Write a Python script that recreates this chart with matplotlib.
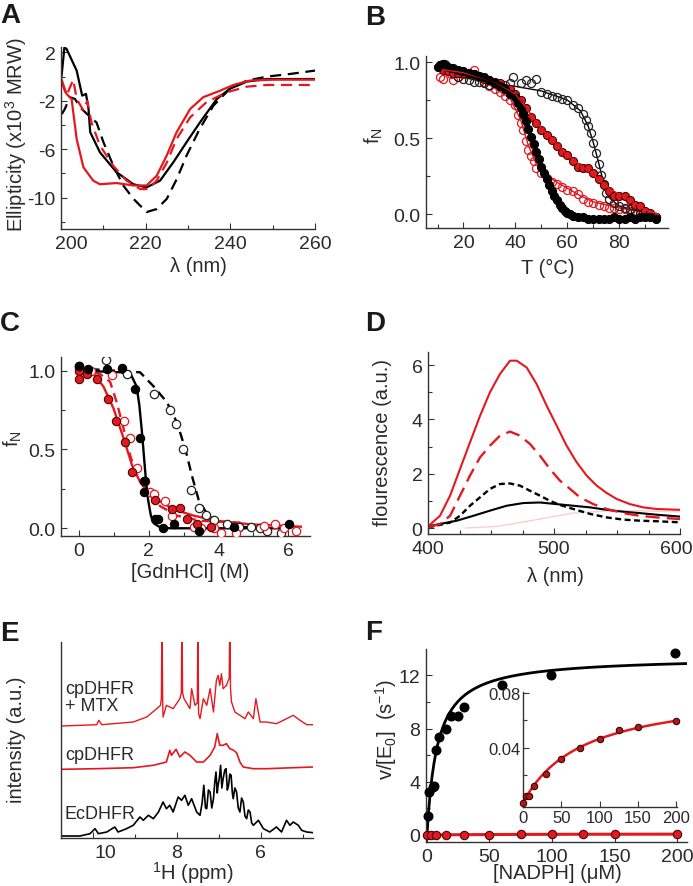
import numpy as np
import matplotlib
matplotlib.use('Agg')
import matplotlib.pyplot as plt
from matplotlib.ticker import FixedLocator, NullLocator
import matplotlib.transforms as mtrans

plt.rcParams['font.family'] = ['Liberation Sans', 'DejaVu Sans']
plt.rcParams['mathtext.default'] = 'regular'

RED = '#e3191f'
DRED = '#4a0505'
TXT = '#2a2a2a'

# ---------------- Panel A : CD spectra ----------------
a_bk_solid_x = [200.15, 200.8, 201.3, 203.7, 205.0, 205.9, 206.5, 206.9, 209.2, 213.1, 217.1, 220.2, 223.4, 226.5, 229.7, 232.8, 236.8, 239.9, 243.9, 248.6, 260]
a_bk_solid_y = [0.1, 2.4, 2.3, 0.5, -1.57, -1.43, -2.68, -4.6, -6.26, -7.9, -8.9, -9.16, -8.6, -7.1, -5.4, -3.8, -1.85, -1.0, -0.41, -0.2, -0.2]
a_bk_dash_x = [200.2, 200.9, 202.1, 203.3, 204.9, 206.5, 208.4, 210.0, 212.4, 214.7, 217.1, 220.2, 222.6, 225.0, 227.3, 229.7, 232.8, 236.0, 239.9, 243.9, 248.6, 254.1, 260]
a_bk_dash_y = [-3.1, -2.68, -1.7, -1.85, -2.68, -3.2, -3.8, -5.4, -7.4, -9.0, -10.1, -11.2, -10.95, -10.1, -8.5, -6.5, -4.3, -2.4, -1.0, -0.33, 0.0, 0.22, 0.5]
a_rd_solid_x = [200.1, 201.3, 202.5, 203.7, 205.3, 207.6, 209.2, 213.1, 217.1, 220.2, 222.6, 225.0, 227.3, 230.5, 233.6, 237.6, 240.7, 244.6, 250.2, 260]
a_rd_solid_y = [-0.2, -1.43, -1.85, -5.16, -7.5, -8.6, -8.9, -8.8, -9.0, -9.0, -8.2, -6.5, -4.6, -2.68, -1.7, -1.16, -0.69, -0.33, -0.25, -0.25]
a_rd_dash_x = [200.2, 201.3, 202.9, 203.7, 205.3, 206.2, 207.2, 209.2, 212.4, 215.5, 218.7, 220.6, 222.6, 225.0, 227.3, 230.5, 234.4, 239.1, 243.9, 248.6, 260]
a_rd_dash_y = [-0.47, -1.57, -0.25, -1.85, -2.8, -2.0, -3.8, -5.7, -7.4, -8.6, -9.3, -9.3, -8.6, -7.1, -5.16, -3.37, -2.1, -1.3, -0.83, -0.69, -0.69]

# ---------------- Panel B : thermal melts ----------------
b_bf_T = [10, 11, 12, 13, 14, 15, 16, 18, 20, 22, 24, 26, 28, 30, 32, 34, 36, 38, 40, 41, 42, 43, 44, 45, 46, 47, 48, 49, 50, 51, 52, 53, 54, 55, 56, 57, 58, 59, 60, 61, 62, 64, 66, 68, 70, 72, 74, 76, 78, 80, 82, 84, 86, 88, 90, 92, 94]
b_bf_f = [0.97, 0.98, 0.99, 0.98, 0.97, 0.96, 0.96, 0.95, 0.94, 0.93, 0.92, 0.91, 0.90, 0.88, 0.86, 0.84, 0.82, 0.79, 0.77, 0.73, 0.70, 0.66, 0.61, 0.56, 0.51, 0.46, 0.41, 0.36, 0.31, 0.27, 0.23, 0.19, 0.15, 0.12, 0.09, 0.06, 0.04, 0.02, 0.01, 0.0, -0.01, -0.02, -0.02, -0.03, -0.03, -0.03, -0.03, -0.03, -0.02, -0.03, -0.03, -0.02, -0.03, -0.02, -0.02, -0.02, -0.03]
b_bo_T = [11, 12, 14, 16, 18, 20, 22, 24, 26, 28, 30, 32, 34, 36, 38, 39, 42, 44, 46, 48, 50, 52, 54, 56, 58, 60, 62, 64, 66, 67, 68, 69, 70, 71, 72, 73, 74, 75, 76, 78, 80, 82, 84, 86, 88, 90, 92, 94]
b_bo_f = [0.98, 0.99, 0.96, 0.93, 0.90, 0.89, 0.88, 0.87, 0.87, 0.86, 0.85, 0.86, 0.84, 0.85, 0.86, 0.90, 0.86, 0.88, 0.86, 0.89, 0.80, 0.79, 0.78, 0.77, 0.76, 0.75, 0.72, 0.70, 0.66, 0.62, 0.58, 0.53, 0.47, 0.40, 0.33, 0.26, 0.20, 0.14, 0.10, 0.07, 0.05, 0.04, 0.03, 0.02, 0.01, 0.0, 0.0, -0.02]
b_rf_T = [12, 14, 16, 18, 20, 22, 24, 26, 28, 30, 32, 34, 36, 38, 40, 42, 44, 46, 48, 50, 52, 54, 56, 58, 60, 62, 64, 66, 68, 70, 72, 74, 76, 78, 80, 82, 84, 86, 88, 90, 92, 94]
b_rf_f = [0.95, 0.94, 0.93, 0.93, 0.93, 0.92, 0.92, 0.91, 0.89, 0.88, 0.87, 0.86, 0.83, 0.82, 0.79, 0.75, 0.70, 0.64, 0.60, 0.55, 0.52, 0.49, 0.45, 0.41, 0.39, 0.35, 0.31, 0.30, 0.30, 0.27, 0.23, 0.19, 0.15, 0.12, 0.12, 0.12, 0.09, 0.06, 0.05, 0.02, 0.01, -0.02]
b_ro_T = [11, 12, 13, 15, 16, 18, 20, 22, 24, 26, 28, 30, 32, 34, 36, 38, 40, 41, 42, 43, 44, 45, 46, 47, 48, 50, 52, 54, 56, 58, 60, 62, 64, 66, 68, 70, 72, 74, 76, 78, 80, 82, 84, 86, 88, 90]
b_ro_f = [0.90, 0.89, 0.99, 0.92, 0.88, 0.90, 0.92, 0.93, 0.95, 0.90, 0.87, 0.84, 0.82, 0.80, 0.78, 0.75, 0.72, 0.65, 0.60, 0.55, 0.48, 0.42, 0.38, 0.35, 0.30, 0.27, 0.24, 0.21, 0.20, 0.18, 0.16, 0.15, 0.13, 0.10, 0.08, 0.07, 0.06, 0.05, 0.04, 0.04, 0.03, 0.03, 0.02, 0.02, 0.0, 0.01]
# fitted curves
b_fit_bf_T = [10, 20, 30, 38, 42, 46, 50, 54, 58, 62, 70, 95]
b_fit_bf_f = [0.98, 0.94, 0.88, 0.80, 0.71, 0.52, 0.32, 0.15, 0.04, 0.0, -0.02, -0.02]
b_fit_bo_T = [10, 20, 30, 40, 50, 60, 65, 68, 70, 72, 74, 76, 80, 90, 95]
b_fit_bo_f = [0.96, 0.90, 0.86, 0.84, 0.81, 0.75, 0.68, 0.58, 0.47, 0.34, 0.20, 0.11, 0.05, 0.01, 0.0]
b_fit_rf_T = [12, 20, 30, 40, 45, 50, 55, 60, 65, 70, 75, 80, 85, 90, 95]
b_fit_rf_f = [0.95, 0.93, 0.88, 0.79, 0.68, 0.56, 0.48, 0.39, 0.32, 0.26, 0.18, 0.13, 0.08, 0.03, 0.0]
b_fit_ro_T = [12, 20, 30, 38, 42, 45, 48, 52, 58, 65, 70, 80, 90]
b_fit_ro_f = [0.92, 0.92, 0.85, 0.76, 0.62, 0.45, 0.33, 0.25, 0.19, 0.12, 0.08, 0.04, 0.01]

# ---------------- Panel C : chemical denaturation ----------------
c_bf_x = [0, 0.27, 0.8, 1.23, 1.6, 1.76, 1.85, 1.87, 2.19, 2.25, 2.41, 2.71, 3.43, 4.44, 6.02]
c_bf_y = [1.03, 1.01, 1.01, 1.02, 0.885, 0.57, 0.30, 0.23, 0.06, 0.06, 0.0, 0.03, -0.02, 0.01, 0.03]
c_bo_x = [0, 0.27, 0.78, 1.37, 2.16, 2.62, 2.79, 2.98, 3.22, 3.45, 3.64, 3.88, 4.25, 4.59, 4.92, 5.2, 5.4, 5.78]
c_bo_y = [1.03, 1.0, 1.07, 0.98, 0.85, 0.75, 0.66, 0.5, 0.24, 0.13, 0.085, 0.05, 0.025, 0.01, 0.01, 0.0, -0.02, -0.03]
c_rf_x = [0, 0, 0.24, 0.51, 0.82, 1.06, 1.32, 1.52, 1.9, 2.19, 2.67, 2.89, 3.1, 3.39, 3.77]
c_rf_y = [1.0, 0.95, 0.98, 0.95, 0.82, 0.68, 0.55, 0.36, 0.3, 0.18, 0.12, 0.13, 0.06, 0.03, 0.01]
c_ro_x = [0, 0.35, 0.94, 1.28, 1.45, 1.66, 2.04, 2.14, 2.47, 2.67, 3.29, 3.51, 3.87, 4.06, 4.49, 5.3, 5.61, 5.88, 6.22]
c_ro_y = [1.02, 1.0, 0.97, 0.68, 0.57, 0.38, 0.23, 0.22, 0.17, 0.08, 0.01, 0.0, 0.0, -0.03, -0.03, 0.015, 0.03, 0.0, -0.02]
c_fit_bs_x = [0.1, 1.2, 1.5, 1.65, 1.73, 1.8, 1.86, 1.92, 1.98, 2.06, 2.15, 2.3, 2.6, 6.0]
c_fit_bs_y = [1.0, 0.99, 0.97, 0.9, 0.78, 0.62, 0.46, 0.3, 0.18, 0.08, 0.03, 0.01, 0.0, 0.0]
c_fit_bd_x = [0.32, 1.75, 2.14, 2.52, 2.81, 3.05, 3.24, 3.43, 3.67, 4.06, 4.63, 5.2]
c_fit_bd_y = [1.01, 0.99, 0.9, 0.8, 0.67, 0.5, 0.33, 0.18, 0.09, 0.036, 0.01, 0.0]
c_fit_rs_x = [0, 0.41, 0.7, 0.99, 1.28, 1.52, 1.76, 2.14, 2.71, 3.29, 3.96, 4.92, 6.36]
c_fit_rs_y = [1.01, 0.98, 0.9, 0.76, 0.57, 0.4, 0.29, 0.195, 0.12, 0.08, 0.047, 0.025, 0.01]
c_fit_rd_x = [0, 0.6, 0.89, 1.08, 1.28, 1.47, 1.66, 1.95, 2.33, 2.81, 3.48, 4.63]
c_fit_rd_y = [1.0, 0.98, 0.93, 0.8, 0.63, 0.46, 0.33, 0.23, 0.14, 0.08, 0.047, 0.036]

# ---------------- Panel D : fluorescence ----------------
d_rs_x = [400, 409.5, 417.5, 425.4, 433.3, 441.3, 449.2, 457.1, 465.1, 470.4, 478.3, 486.2, 494.2, 502.1, 510, 518, 525.9, 533.9, 541.8, 549.7, 560.3, 570.9, 581.5, 600]
d_rs_y = [0.06, 0.45, 1.19, 2.17, 3.15, 4.13, 5.0, 5.67, 6.16, 6.16, 5.91, 5.3, 4.5, 3.77, 3.03, 2.42, 1.93, 1.56, 1.29, 1.07, 0.88, 0.76, 0.70, 0.67]
d_rd_x = [400, 409.5, 417.5, 425.4, 433.3, 441.3, 449.2, 457.1, 465.1, 473, 481, 488.9, 496.8, 504.8, 512.7, 520.6, 531.2, 541.8, 555, 568, 581.5, 600]
d_rd_y = [0.02, 0.15, 0.45, 1.19, 1.93, 2.6, 3.03, 3.4, 3.55, 3.4, 3.09, 2.66, 2.17, 1.74, 1.44, 1.13, 0.88, 0.70, 0.55, 0.45, 0.39, 0.33]
d_bd_x = [400, 417.5, 425.4, 433.3, 441.3, 449.2, 457.1, 465.1, 473, 481, 488.9, 496.8, 504.8, 515.3, 528.6, 541.8, 555, 568, 581.5, 600]
d_bd_y = [0.02, 0.2, 0.45, 0.82, 1.13, 1.44, 1.62, 1.64, 1.56, 1.37, 1.19, 1.0, 0.85, 0.7, 0.52, 0.39, 0.31, 0.27, 0.25, 0.21]
d_bs_x = [400, 409.5, 422.8, 436, 449.2, 462.4, 475.7, 488.9, 502.1, 515.3, 528.6, 541.8, 555, 568, 581.5, 600]
d_bs_y = [0.06, 0.15, 0.27, 0.45, 0.64, 0.82, 0.92, 0.94, 0.88, 0.82, 0.76, 0.67, 0.6, 0.55, 0.49, 0.42]
d_faint_x = [430, 455, 485, 515, 550, 600]
d_faint_y = [0.0, 0.06, 0.3, 0.55, 0.65, 0.6]

# ---------------- Panel E : 1D 1H NMR ----------------
e_ec_ppm = [10.75, 10.31, 10.07, 9.95, 9.87, 9.67, 9.48, 9.40, 9.20, 9.04, 8.88, 8.80, 8.68, 8.56, 8.44, 8.33, 8.25, 8.17, 8.09, 7.97, 7.89, 7.81, 7.73, 7.65, 7.53, 7.45, 7.40, 7.36, 7.32, 7.29, 7.25, 7.21, 7.17, 7.13, 7.10, 7.07, 7.04, 7.02, 6.99, 6.96, 6.93, 6.90, 6.86, 6.83, 6.80, 6.77, 6.74, 6.71, 6.68, 6.66, 6.62, 6.58, 6.54, 6.50, 6.46, 6.42, 6.38, 6.34, 6.30, 6.26, 6.22, 6.18, 6.06, 5.94, 5.79, 5.63, 5.51, 5.39, 5.31, 5.23, 5.11, 5.03, 4.91, 4.75]
e_ec_int = [2, 2, 4.3, 9.3, 4.3, 6, 11, 6, 9.3, 12.7, 21, 17.7, 22.7, 19.3, 26, 36, 29.3, 32.7, 26, 41, 37.7, 42.7, 32.7, 39.3, 26, 22.7, 35, 52.7, 30, 29.3, 48, 46, 30, 39.3, 55, 66, 45, 52.7, 60, 72.7, 50, 59.3, 68, 69.3, 48, 52.7, 64, 62.7, 45, 39.3, 50, 46, 30, 26, 40, 36, 22, 19.3, 28, 26, 15, 12.7, 17.7, 9.3, 6, 11, 6, 17.7, 12.7, 16, 12.7, 7.7, 6, 5.3]
e_cp_ppm = [10.75, 9.91, 9.04, 8.56, 8.25, 8.17, 8.13, 8.02, 7.93, 7.81, 7.69, 7.53, 7.37, 7.21, 7.10, 7.04, 6.98, 6.90, 6.82, 6.74, 6.66, 6.58, 6.50, 6.42, 6.18, 5.87, 5.23, 4.75]
e_cp_int = [68.7, 69.3, 70.3, 72.7, 76, 87.7, 82.7, 88.7, 81, 86, 82.7, 76, 76, 82.7, 91, 104.3, 92.7, 92.7, 94.3, 89.3, 88, 85.3, 76, 71, 69.3, 69.3, 70.3, 71]
e_mtx_ppm = [10.75, 9.91, 9.86, 9.79, 9.04, 8.72, 8.48, 8.39, 8.37, 8.355, 8.34, 8.33, 8.25, 8.09, 7.93, 7.895, 7.88, 7.865, 7.83, 7.69, 7.65, 7.57, 7.515, 7.50, 7.485, 7.45, 7.37, 7.29, 7.21, 7.13, 7.06, 7.02, 6.98, 6.94, 6.90, 6.82, 6.755, 6.74, 6.725, 6.70, 6.62, 6.50, 6.38, 6.30, 6.18, 6.12, 6.02, 5.87, 5.63, 5.39, 5.23, 5.07, 4.91, 4.75]
e_mtx_int = [112, 113.3, 117.7, 113.3, 116, 121, 129.3, 132.7, 140, 230, 140, 121, 132.7, 129.3, 139.3, 145, 230, 145, 139.3, 129.3, 149.3, 132.7, 135, 230, 125, 119.3, 139.3, 132.7, 149.3, 126, 157.7, 162.7, 152.7, 164.3, 149.3, 152.7, 160, 230, 150, 136, 126, 122.7, 119.3, 126, 119.3, 139.3, 116, 116, 114.3, 119.3, 122.7, 117.7, 113.3, 113.3]

# ---------------- Panel F : kinetics ----------------
f_ec_x = [1.1, 1.9, 4.5, 5.6, 7.2, 9.9, 15.2, 19.5, 24.5, 29.6, 59.7, 98.9, 198.4]
f_ec_v = [1.45, 3.25, 3.6, 3.7, 6.4, 7.4, 7.95, 8.95, 8.95, 9.65, 11.3, 12.0, 13.7]
f_ec_vmax, f_ec_km = 13.4, 8.3
f_cp_x = [0, 3.5, 7.5, 15, 30, 50, 75, 100, 125, 150, 200]
f_cp_v = [0.0, 0.0048, 0.0052, 0.0124, 0.0208, 0.0321, 0.040, 0.0465, 0.0532, 0.0548, 0.0596]
f_cp_vmax, f_cp_km = 0.083, 78.4

# ================= drawing =================
W, H = 693, 887
fig = plt.figure(figsize=(W / 100, H / 100), dpi=100)


def add_ax(l, r, t, b):
    return fig.add_axes([l / W, 1 - b / H, (r - l) / W, (b - t) / H])


def style(ax, fs=14):
    for s in ['top', 'right']:
        ax.spines[s].set_visible(False)
    for s in ['left', 'bottom']:
        ax.spines[s].set_linewidth(1.0)
        ax.spines[s].set_color('#333333')
    ax.tick_params(which='major', direction='in', length=4, width=0.8,
                   labelsize=fs, color='#333333', labelcolor=TXT, pad=4)
    ax.tick_params(which='minor', direction='in', length=3, width=0.8, color='#333333')


def ftext(x, y, s, **kw):
    kw.setdefault('ha', 'center')
    kw.setdefault('va', 'center')
    kw.setdefault('color', TXT)
    kw.setdefault('fontsize', 14.5)
    fig.text(x / W, 1 - y / H, s, **kw)


def letter(x, y, s):
    fig.text(x / W, 1 - y / H, s, fontsize=20, fontweight='bold', ha='left', va='top', color='#1a1a1a')


def shift_xlabel(ax, idx, dx):
    lab = ax.get_xticklabels()[idx]
    lab.set_transform(lab.get_transform() + mtrans.ScaledTranslation(dx / 100, 0, fig.dpi_scale_trans))


# ---- A ----
axA = add_ax(61, 315, 48, 230)
style(axA)
axA.plot(a_bk_dash_x, a_bk_dash_y, color='black', lw=1.6, ls=(0, (5, 3)))
axA.plot(a_bk_solid_x, a_bk_solid_y, color='black', lw=1.6)
axA.plot(a_rd_dash_x, a_rd_dash_y, color=RED, lw=1.6, ls=(0, (5, 3)))
axA.plot(a_rd_solid_x, a_rd_solid_y, color=RED, lw=1.6)
axA.set_xlim(200, 260)
axA.set_ylim(-12.6, 2.45)
axA.xaxis.set_major_locator(FixedLocator([200, 220, 240, 260]))
axA.xaxis.set_minor_locator(FixedLocator([210, 230, 250]))
axA.yaxis.set_major_locator(FixedLocator([2, -2, -6, -10]))
axA.yaxis.set_minor_locator(FixedLocator([0, -4, -8, -12]))
axA.set_yticklabels(['2', '-2', '-6', '-10'])
shift_xlabel(axA, 0, 10)
ftext(16, 135, 'Ellipticity (x10$^3$ MRW)', rotation=90)
ftext(198, 267, 'λ (nm)')
letter(0, 3, 'A')

# ---- B ----
axB = add_ax(426, 668, 57, 229)
style(axB)
axB.plot(b_fit_ro_T, b_fit_ro_f, color=RED, lw=1.0, zorder=2)
axB.plot(b_fit_bo_T, b_fit_bo_f, color='black', lw=1.0, zorder=2)
axB.plot(b_ro_T, b_ro_f, ls='none', marker='o', ms=5.8, mfc='none', mec=RED, mew=0.9, zorder=3)
axB.plot(b_bo_T, b_bo_f, ls='none', marker='o', ms=5.8, mfc='none', mec='#222222', mew=0.9, zorder=3)
axB.plot(b_rf_T, b_rf_f, ls='none', marker='o', ms=5.8, mfc=RED, mec=DRED, mew=0.8, zorder=4)
axB.plot(b_bf_T, b_bf_f, ls='none', marker='o', ms=5.8, mfc='black', mec='black', mew=0.8, zorder=4)
axB.plot(b_fit_rf_T, b_fit_rf_f, color=RED, lw=1.0, zorder=5)
axB.plot(b_fit_bf_T, b_fit_bf_f, color='black', lw=1.0, zorder=5)
axB.set_xlim(5.56, 98.75)
axB.set_ylim(-0.092, 1.04)
axB.xaxis.set_major_locator(FixedLocator([20, 40, 60, 80]))
axB.xaxis.set_minor_locator(FixedLocator([10, 30, 50, 70, 90]))
axB.yaxis.set_major_locator(FixedLocator([0, 0.5, 1.0]))
axB.yaxis.set_minor_locator(FixedLocator([0.25, 0.75]))
axB.set_yticklabels(['0.0', '0.5', '1.0'])
ftext(374, 136, 'f$_N$', rotation=90)
ftext(548, 268, 'T (°C)')
letter(365, 5, 'B')

# ---- C ----
axC = add_ax(61, 310, 358, 537)
style(axC)
axC.plot(c_fit_bd_x, c_fit_bd_y, color='black', lw=1.7, ls=(0, (4, 2.5)), zorder=2)
axC.plot(c_fit_rd_x, c_fit_rd_y, color=RED, lw=1.7, ls=(0, (4, 2.5)), zorder=2)
axC.plot(c_fit_rs_x, c_fit_rs_y, color=RED, lw=1.7, zorder=2)
axC.plot(c_fit_bs_x, c_fit_bs_y, color='black', lw=1.7, zorder=2)
axC.plot(c_bo_x, c_bo_y, ls='none', marker='o', ms=6, mfc='white', mec='#222222', mew=0.9, zorder=3)
axC.plot(c_ro_x, c_ro_y, ls='none', marker='o', ms=6, mfc='white', mec=RED, mew=0.9, zorder=3)
axC.plot(c_rf_x, c_rf_y, ls='none', marker='o', ms=6, mfc=RED, mec=DRED, mew=0.8, zorder=4)
axC.plot(c_bf_x, c_bf_y, ls='none', marker='o', ms=6, mfc='black', mec='black', mew=0.8, zorder=4)
axC.set_xlim(-0.516, 6.62)
axC.set_ylim(-0.049, 1.087)
axC.xaxis.set_major_locator(FixedLocator([0, 2, 4, 6]))
axC.xaxis.set_minor_locator(FixedLocator([1, 3, 5]))
axC.yaxis.set_major_locator(FixedLocator([0, 0.5, 1.0]))
axC.yaxis.set_minor_locator(FixedLocator([0.25, 0.75]))
axC.set_yticklabels(['0.0', '0.5', '1.0'])
ftext(13, 439, 'f$_N$', rotation=90)
ftext(190, 573, '[GdnHCl] (M)')
letter(0, 311, 'C')

# ---- D ----
axD = add_ax(428, 680, 353, 535)
style(axD)
axD.plot(d_faint_x, d_faint_y, color='#f2d2d2', lw=1.0)
axD.plot(d_bs_x, d_bs_y, color='black', lw=1.5)
axD.plot(d_bd_x, d_bd_y, color='black', lw=1.7, ls=(0, (2.5, 1.5)))
axD.plot(d_rd_x, d_rd_y, color=RED, lw=1.7, ls=(0, (6, 3)))
axD.plot(d_rs_x, d_rs_y, color=RED, lw=1.5)
axD.set_xlim(400, 600)
axD.set_ylim(-0.22, 6.48)
axD.xaxis.set_major_locator(FixedLocator([400, 500, 600]))
axD.xaxis.set_minor_locator(FixedLocator([425, 450, 475, 525, 550, 575]))
axD.yaxis.set_major_locator(FixedLocator([0, 2, 4, 6]))
axD.yaxis.set_minor_locator(FixedLocator([1, 3, 5]))
shift_xlabel(axD, 2, -4)
ftext(383, 443, 'flourescence (a.u.)', rotation=90)
ftext(555, 577, 'λ (nm)')
letter(365, 311, 'D')

# ---- E ----
axE = add_ax(61, 313, 643, 839)
style(axE)
axE.plot(e_ec_ppm, e_ec_int, color='black', lw=1.2)
axE.plot(e_cp_ppm, e_cp_int, color=RED, lw=1.2)
axE.plot(e_mtx_ppm, e_mtx_int, color=RED, lw=1.0)
axE.set_xlim(10.76, 4.76)
axE.set_ylim(0, 196)
axE.xaxis.set_major_locator(FixedLocator([10, 8, 6]))
axE.xaxis.set_minor_locator(FixedLocator([9, 7, 5]))
axE.yaxis.set_major_locator(NullLocator())
shift_xlabel(axE, 0, 12)
for txt, yy in [('cpDHFR', 690), ('+ MTX', 707), ('cpDHFR', 756), ('EcDHFR', 815)]:
    axE.text((65 - 61) / 252, 1 - (yy - 643) / 196, txt, transform=axE.transAxes,
             fontsize=13, color=TXT, ha='left', va='center')
ftext(17, 740, 'intensity (a.u.)', rotation=90)
ftext(193, 873, '$^1$H (ppm)')
letter(0, 621, 'E')

# ---- F ----
axF = add_ax(426, 687, 650, 843)
style(axF)
xs = np.linspace(0, 208, 300)
axF.plot(xs, f_ec_vmax * xs / (f_ec_km + xs), color='black', lw=2.0, zorder=2)
axF.plot(f_cp_x, f_cp_v, color=RED, lw=2.2, zorder=2)
axF.plot(f_ec_x, f_ec_v, ls='none', marker='o', ms=6.2, mfc='black', mec='black', zorder=3, clip_on=False)
axF.plot(f_cp_x, f_cp_v, ls='none', marker='o', ms=6.0, mfc=RED, mec=DRED, mew=0.8, zorder=3, clip_on=False)
axF.set_xlim(-0.8, 208)
axF.set_ylim(-0.53, 13.98)
axF.xaxis.set_major_locator(FixedLocator([0, 50, 100, 150, 200]))
axF.yaxis.set_major_locator(FixedLocator([0, 4, 8, 12]))
axF.yaxis.set_minor_locator(FixedLocator([2, 6, 10]))
ftext(386, 730, 'v/[E$_0$]  (s$^{-1}$)', rotation=90)
ftext(557, 874, '[NADPH] (μM)')
letter(365, 620, 'F')

# inset
axI = add_ax(523, 677, 693, 808)
style(axI, fs=12)
axI.patch.set_alpha(0)
axI.tick_params(which='major', pad=2)
xi = np.linspace(0, 200, 200)
axI.plot(xi, f_cp_vmax * xi / (f_cp_km + xi), color=RED, lw=1.8, zorder=2)
axI.plot(f_cp_x, f_cp_v, ls='none', marker='o', ms=4.6, mfc='#b01818', mec='#3a0505', mew=0.8, zorder=3, clip_on=False)
axI.set_xlim(0, 201)
axI.set_ylim(-0.003, 0.0805)
axI.xaxis.set_major_locator(FixedLocator([0, 50, 100, 150, 200]))
axI.yaxis.set_major_locator(FixedLocator([0.04, 0.08]))
axI.yaxis.set_minor_locator(FixedLocator([0.02, 0.06]))
axI.set_yticklabels(['0.04', '0.08'])

fig.savefig('out.png', dpi=100)
